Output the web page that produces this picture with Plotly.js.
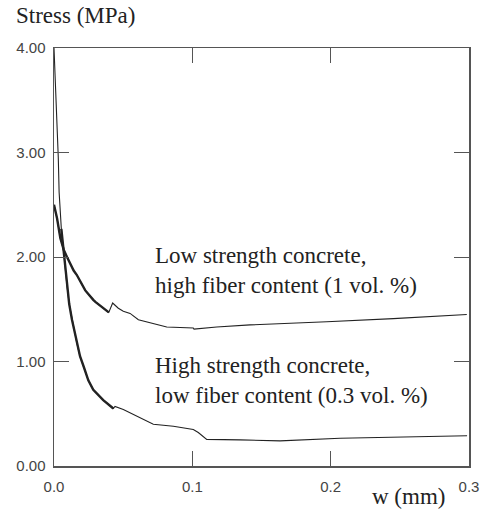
<!DOCTYPE html>
<html>
<head>
<meta charset="utf-8">
<script src="https://cdn.plot.ly/plotly-3.0.1.min.js"></script>
<style>html,body{margin:0;padding:0;background:#fff;}#chart{width:483px;height:519px;}</style>
</head>
<body>
<div id="chart"></div>
<script>
// Low strength concrete, high fiber content (1 vol. %)
const wLow = [0, 0.0014, 0.0022, 0.0046, 0.0070, 0.0094, 0.0142, 0.0164, 0.0212, 0.0226, 0.0284, 0.0299, 0.0396, 0.0424, 0.0465, 0.0501, 0.055, 0.061, 0.0815, 0.1007, 0.1012, 0.1176, 0.1417, 0.1634, 0.1972, 0.2453, 0.2984];
const sLow = [2.50, 2.42, 2.37, 2.18, 2.07, 2.00, 1.87, 1.83, 1.71, 1.68, 1.59, 1.57, 1.47, 1.56, 1.51, 1.48, 1.46, 1.40, 1.33, 1.32, 1.31, 1.33, 1.35, 1.36, 1.38, 1.41, 1.45];
// High strength concrete, low fiber content (0.3 vol. %)
const wHigh = [0, 0.0019, 0.0031, 0.0037, 0.0046, 0.0053, 0.0070, 0.0082, 0.0094, 0.0110, 0.0130, 0.0166, 0.0188, 0.0215, 0.0248, 0.0284, 0.0356, 0.0429, 0.0441, 0.0501, 0.0622, 0.0718, 0.0863, 0.1007, 0.1043, 0.1104, 0.1345, 0.1634, 0.2068, 0.2986];
const sHigh = [4.00, 3.44, 2.95, 2.62, 2.38, 2.27, 2.05, 1.87, 1.72, 1.55, 1.40, 1.17, 1.05, 0.95, 0.82, 0.73, 0.63, 0.55, 0.57, 0.54, 0.46, 0.40, 0.38, 0.35, 0.32, 0.255, 0.25, 0.24, 0.265, 0.29];

const xTicks = [0, 0.1, 0.2, 0.3];
const xTickText = ["0.0", "0.1", "0.2", "0.3"];
const yTicks = [0, 1, 2, 3, 4];
const yTickText = ["0.00", "1.00", "2.00", "3.00", "4.00"];

const labelLow = "Low strength concrete,<br>high fiber content (1 vol. %)";
const labelHigh = "High strength concrete,<br>low fiber content (0.3 vol. %)";

function seg(w, s, lo, hi) {
  const xs = [], ys = [];
  w.forEach((v, i) => { if (v >= lo && v <= hi) { xs.push(v); ys.push(s[i]); } });
  return {x: xs, y: ys};
}
const lowThick = seg(wLow, sLow, 0, 0.0396);
const highThick = seg(wHigh, sHigh, 0.0053, 0.0429);

const lineCol = "#222";
const traces = [
  {x: wLow, y: sLow, mode: "lines", line: {color: lineCol, width: 1.1}, hoverinfo: "skip"},
  {x: lowThick.x, y: lowThick.y, mode: "lines", line: {color: lineCol, width: 2.4}, hoverinfo: "skip"},
  {x: wHigh, y: sHigh, mode: "lines", line: {color: lineCol, width: 1.1}, hoverinfo: "skip"},
  {x: highThick.x, y: highThick.y, mode: "lines", line: {color: lineCol, width: 2.4}, hoverinfo: "skip"}
];

const axCol = "#555";
const serif = "Liberation Serif, Times New Roman, Times, serif";
const sans = "Liberation Sans, Arial, Helvetica, sans-serif";
const layout = {
  width: 483, height: 519,
  margin: {l: 54, r: 14, t: 48, b: 53},
  paper_bgcolor: "#fff", plot_bgcolor: "#fff",
  showlegend: false,
  font: {family: sans},
  xaxis: {
    range: [0, 0.3], tickvals: xTicks, ticktext: xTickText,
    ticks: "inside", ticklen: 15, tickwidth: 1, tickcolor: axCol,
    showline: true, linecolor: axCol, linewidth: 1.5, mirror: "ticks",
    showgrid: false, zeroline: false,
    tickfont: {family: sans, size: 15, color: "#444"},
    ticklabelstandoff: 6
  },
  yaxis: {
    range: [0, 4], tickvals: yTicks, ticktext: yTickText,
    ticks: "inside", ticklen: 15, tickwidth: 1, tickcolor: axCol,
    showline: true, linecolor: axCol, linewidth: 1.5, mirror: "ticks",
    showgrid: false, zeroline: false,
    tickfont: {family: sans, size: 15, color: "#444"},
    ticklabelstandoff: 4
  },
  annotations: [
    {text: "Stress (MPa)", xref: "paper", yref: "paper", x: -0.0964, y: 1.0766,
     xanchor: "left", yanchor: "middle", showarrow: false,
     font: {family: serif, size: 23, color: "#222"}},
    {text: "w (mm)", xref: "paper", yref: "paper", x: 0.947, y: -0.074,
     xanchor: "right", yanchor: "middle", showarrow: false,
     font: {family: serif, size: 23, color: "#222"}},
    {text: labelLow, xref: "paper", yref: "paper", x: (153 - 54) / 415, y: (466 - 270.5) / 418,
     xanchor: "left", yanchor: "middle", align: "left", showarrow: false,
     font: {family: serif, size: 23, color: "#222"}},
    {text: labelHigh, xref: "paper", yref: "paper", x: (153 - 54) / 415, y: (466 - 380.5) / 418,
     xanchor: "left", yanchor: "middle", align: "left", showarrow: false,
     font: {family: serif, size: 23, color: "#222"}}
  ]
};

Plotly.newPlot("chart", traces, layout, {staticPlot: true, displayModeBar: false});
</script>
</body>
</html>
